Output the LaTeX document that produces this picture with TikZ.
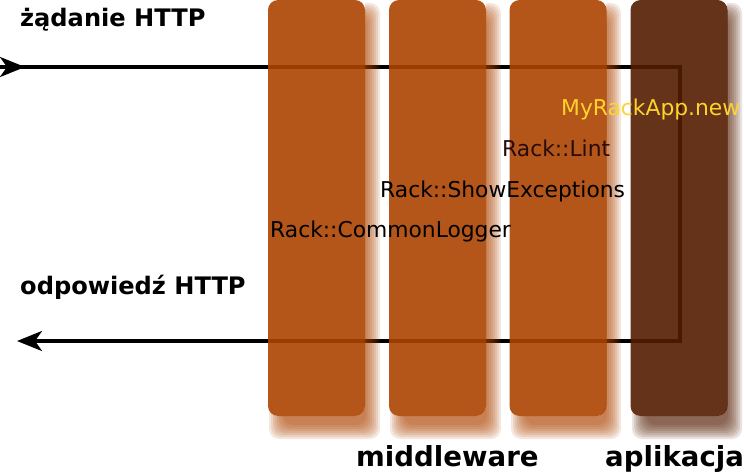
\documentclass[tikz,border=0pt]{standalone}
\usepackage{fontspec}
\setmainfont{DejaVu Sans}
\usetikzlibrary{arrows.meta}
\definecolor{barorange}{RGB}{172,67,0}
\definecolor{bardark}{RGB}{83,29,1}
\definecolor{appyellow}{RGB}{255,212,42}
\definecolor{lintdark}{RGB}{40,11,11}
\newcommand\barshade[5]{%
  \foreach \k in {0,...,7}{%
    \pgfmathsetmacro\xa{#1+8+7-2*\k}%
    \pgfmathsetmacro\ya{#2+10+7-2*\k}%
    \pgfmathsetmacro\xb{#3+8-7+2*\k}%
    \pgfmathsetmacro\yb{#4+16-7+2*\k}%
    \fill[#5,opacity=0.13,rounded corners=10pt] (\xa,\ya) rectangle (\xb,\yb);
  }}
\tikzset{
  flow/.style={line width=3.3pt, draw=black, miter limit=10},
  tipstyle/.style={-{Stealth[length=25pt,width=20pt,inset=7pt]}},
  barbox/.style={rounded corners=10pt, minimum width=97pt, minimum height=416pt, inner sep=0, fill opacity=0.9},
  txt/.style={inner sep=0, anchor=base west, font=\fontsize{21.8pt}{25pt}\selectfont},
  hdr/.style={inner sep=0, anchor=base west, font=\bfseries\fontsize{24.1pt}{28pt}\selectfont},
  big/.style={inner sep=0, anchor=base west, font=\bfseries\fontsize{27.6pt}{31pt}\selectfont}
}
\begin{document}
\begin{tikzpicture}[x=1pt,y=-1pt]
\useasboundingbox (0,0) rectangle (744,473);
% connector points
\coordinate (in) at (0,67);
\coordinate (intip) at (25,67);
\coordinate (c1) at (680,67);
\coordinate (c2) at (680,341);
\coordinate (out) at (17,341);
\draw[flow, tipstyle] (in) -- (c1) -- (c2) -- (out);
\draw[flow, tipstyle] (in) -- (intip);
% shadows
\begin{scope}
\clip (0,0) rectangle (744,473)
  [rounded corners=10pt]
  (365,-5) -- (365,416) -- (268,416) -- (268,-5) -- cycle
  (486,-5) -- (486,416) -- (389,416) -- (389,-5) -- cycle
  (606,-5) -- (606,416) -- (510,416) -- (510,-5) -- cycle
  (727,-5) -- (727,416) -- (631,416) -- (631,-5) -- cycle;
\barshade{268}{0}{365}{416}{barorange}
\barshade{389}{0}{486}{416}{barorange}
\barshade{510}{0}{606}{416}{barorange}
\barshade{631}{0}{727}{416}{bardark}
\end{scope}
% bars
\node[barbox, fill=barorange] (b1) at (316.5,208) {};
\node[barbox, fill=barorange] (b2) at (437.5,208) {};
\node[barbox, fill=barorange] (b3) at (558,208) {};
\node[barbox, fill=bardark] (b4) at (679,208) {};
% texts
\node[txt, text=appyellow] (app) at (561,116) {MyRackApp.new};
\node[txt, text=lintdark] (lint) at (502,157) {Rack::Lint};
\node[txt] (showex) at (380,197) {Rack::ShowExceptions};
\node[txt] (logger) at (270,237) {Rack::CommonLogger};
\node[hdr] (req) at (20,27) {żądanie HTTP};
\node[hdr] (resp) at (20,294) {odpowiedź HTTP};
\node[big] (mw) at (356,466.5) {middleware};
\node[big] (appl) at (605,466.5) {aplikacja};
\end{tikzpicture}
\end{document}
